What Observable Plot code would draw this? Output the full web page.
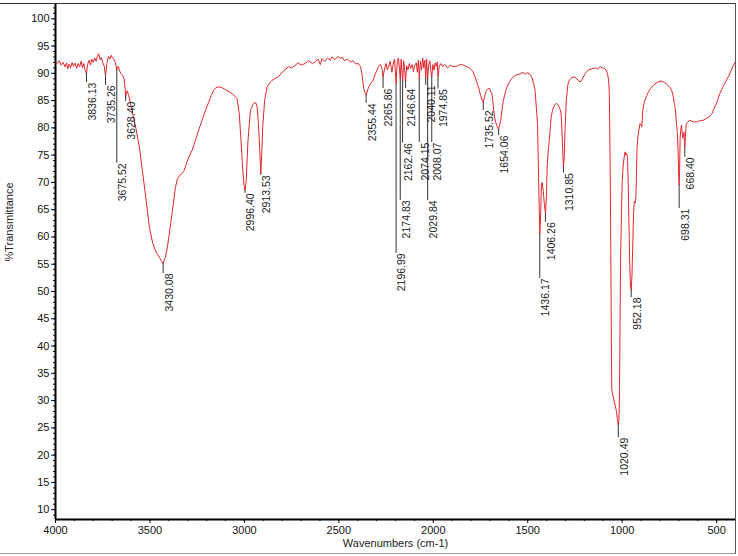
<!DOCTYPE html>
<html><head><meta charset="utf-8">
<script src="https://cdn.jsdelivr.net/npm/d3@7"></script>
<script src="https://cdn.jsdelivr.net/npm/@observablehq/plot@0.6"></script>
<style>
body{margin:0;background:#fff;}
#wrap{position:relative;width:738px;height:556px;overflow:hidden;background:#fff;}
#border{position:absolute;left:0;top:3px;width:736px;height:551px;border-top:1px solid #333;border-right:1px solid #555;border-bottom:1px solid #999;pointer-events:none;box-sizing:border-box;}
</style></head><body><div id="wrap"><div id="border"></div></div>
<script>
// Spectrum (wavenumber cm-1, %T)
const wavenumbers = [4000,3990,3980,3970,3960,3950,3942,3935,3928,3920,3912,3905,3896,3888,3880,3872,3865,3857,3850,3843,3836,3830,3822,3815,3808,3800,3792,3785,3778,3771,3764,3757,3750,3742,3735,3728,3720,3712,3705,3698,3690,3683,3676,3668,3660,3652,3644,3636,3628,3620,3612,3604,3596,3588,3574,3556,3538,3520,3503,3485,3467,3450,3441,3430,3418,3408,3400,3383,3365,3355,3344,3330,3321,3308,3295,3277,3259,3240,3224,3205,3189,3175,3162,3150,3136,3120,3100,3080,3065,3050,3039,3027,3018,3009,3002,2996,2990,2981,2968,2951,2940,2933,2925,2921,2913,2908,2903,2893,2880,2865,2854,2835,2819,2800,2780,2766,2750,2731,2715,2700,2678,2660,2640,2625,2610,2598,2589,2575,2560,2545,2536,2520,2505,2490,2483,2470,2455,2439,2425,2410,2396,2385,2378,2368,2360,2355,2345,2333,2320,2307,2298,2290,2280,2272,2266,2258,2250,2243,2237,2228,2219,2212,2205,2197,2190,2184,2179,2175,2170,2166,2162,2157,2152,2147,2141,2134,2127,2120,2112,2105,2098,2090,2084,2079,2074,2068,2062,2056,2050,2045,2040,2035,2030,2024,2018,2013,2008,2002,1996,1990,1984,1979,1975,1968,1960,1950,1940,1925,1910,1895,1875,1860,1840,1820,1805,1790,1778,1768,1761,1750,1740,1735,1728,1720,1710,1702,1695,1690,1683,1678,1670,1664,1655,1648,1643,1636,1629,1615,1602,1590,1576,1560,1540,1525,1515,1505,1490,1478,1468,1461,1455,1448,1442,1436,1431,1428,1424,1418,1412,1406,1401,1397,1392,1386,1380,1376,1370,1365,1357,1349,1341,1333,1328,1323,1318,1314,1311,1307,1302,1296,1290,1286,1278,1270,1260,1249,1240,1233,1222,1214,1206,1195,1180,1165,1150,1140,1130,1117,1105,1095,1085,1078,1072,1068,1064,1060,1057,1055,1050,1040,1030,1025,1020.5,1017,1014,1011,1008,1004,1000,995,990,985,980,976,972,968,964,960,956,952,948,944,940,936,932,928,925,921,916,912,905,900,896,891,886,880,870,861,850,835,820,800,785,775,765,755,745,738,730,724,720,714,708,704,701,698.3,696,693,689,686,682,679,676,673,670,668.4,665,661,655,642,630,620,606,590,571,555,540,525,510,495,483,465,448,435,422,410,403];
const transmittance = [92.1,91.8,92.3,91.5,92.0,91.2,91.9,90.8,91.7,91.0,92.0,91.3,91.9,90.9,91.8,91.2,92.2,91.0,91.8,90.6,89.9,91.6,92.4,91.5,92.6,92.0,92.8,92.2,93.2,93.6,92.5,92.9,92.0,91.3,89.6,91.8,93.1,92.6,93.3,92.8,92.6,92.0,90.6,91.3,90.4,89.9,89.6,88.8,85.8,86.8,85.9,84.6,83.4,82.0,79.9,76.5,71.6,66.7,61.8,58.8,57.2,56.3,55.7,55.1,56.3,58.0,60.0,64.3,69.1,70.6,71.2,71.7,72.0,73.3,74.6,75.9,77.7,79.8,81.4,83.3,84.7,86.0,86.9,87.4,87.5,87.4,87.0,86.6,86.3,85.8,85.4,82.6,77.7,72.5,69.5,68.5,70.5,77.7,83.2,84.5,84.6,84.0,80.5,77.7,71.6,75.5,80.1,85.0,87.5,88.3,88.7,89.1,89.4,90.2,90.8,91.2,91.0,91.5,91.9,91.5,91.8,92.3,91.8,92.1,92.6,91.6,92.7,92.2,92.8,92.4,93.0,92.5,93.1,92.7,93.0,92.3,92.6,92.1,92.3,91.7,91.8,91.2,89.9,87.2,86.3,86.0,87.2,88.1,88.6,89.9,90.6,91.2,91.6,91.0,89.3,90.8,91.8,90.6,91.2,92.2,90.2,91.7,92.6,88.1,92.4,92.8,90.8,89.0,92.6,90.2,88.5,92.3,91.0,88.3,91.4,90.6,91.8,90.9,91.6,90.3,91.5,91.9,90.2,92.4,89.0,92.2,90.6,92.8,91.0,92.4,89.2,92.6,89.0,91.5,92.3,90.5,89.4,91.6,90.6,91.9,91.3,92.1,89.5,91.3,91.8,91.2,91.6,91.0,91.5,91.2,91.3,91.6,91.5,91.2,90.9,90.3,89.3,88.2,87.5,86.0,84.9,84.7,85.8,86.8,87.2,87.2,86.6,86.3,84.4,82.6,81.0,80.5,79.7,80.6,81.4,83.3,85.0,87.0,88.1,88.8,89.4,89.7,89.9,90.2,89.8,90.1,89.9,89.3,88.0,86.9,84.0,80.8,70.0,60.5,64.5,69.0,70.0,68.5,66.0,64.3,67.5,72.8,75.5,77.7,80.2,82.0,83.0,83.6,84.2,84.5,84.3,83.8,83.3,82.6,79.0,75.0,72.8,74.5,80.0,85.0,87.0,88.2,88.8,89.1,89.3,89.3,89.0,88.7,88.4,88.8,89.3,90.0,90.6,90.8,90.9,91.0,90.8,91.2,91.0,90.9,90.6,90.0,88.8,86.5,75.0,57.0,40.0,32.0,31.0,29.6,28.0,26.5,25.5,26.5,32.0,45.0,57.0,64.0,70.0,73.0,74.5,75.6,75.0,75.3,74.6,70.0,62.0,55.0,51.0,50.2,53.0,58.5,64.0,66.5,66.2,67.0,70.4,76.5,78.5,79.5,80.8,80.6,80.2,83.2,84.2,85.0,85.9,86.6,87.2,87.8,88.2,88.6,88.5,88.3,88.1,87.7,87.3,86.9,85.8,84.5,83.8,81.5,79.0,76.0,71.5,69.5,72.0,78.3,79.8,80.5,79.0,78.1,78.8,79.2,77.5,76.5,78.5,80.6,81.0,81.4,81.2,81.1,81.1,81.3,81.4,81.7,82.0,82.6,83.8,85.0,86.3,87.6,88.7,89.6,90.6,91.5,92.0];

// Peak annotations
const peakWavenumbers = [3836.13,3735.26,3675.52,3628.40,3430.08,2996.40,2913.53,2355.44,2265.86,2196.99,2174.83,2162.46,2146.64,2074.15,2040.11,2029.84,2008.07,1974.85,1735.52,1654.06,1436.17,1406.26,1310.85,1020.49,952.18,698.31,668.40];
const peakLabels = ["3836.13","3735.26","3675.52","3628.40","3430.08","2996.40","2913.53","2355.44","2265.86","2196.99","2174.83","2162.46","2146.64","2074.15","2040.11","2029.84","2008.07","1974.85","1735.52","1654.06","1436.17","1406.26","1310.85","1020.49","952.18","698.31","668.40"];
const peakTransmittance = [89.9,89.6,90.6,85.8,55.1,68.5,71.6,86.0,89.3,88.1,89.0,88.5,88.3,89.0,89.2,89.0,89.4,89.5,84.7,79.7,60.5,64.3,72.8,25.5,50.2,69.5,76.5];
const labelLevels = [88.3,87.8,73.5,84.8,53.3,68.0,71.3,84.5,87.2,57.0,66.7,77.2,87.2,77.3,87.8,66.7,77.3,87.1,83.2,78.6,52.4,62.7,71.7,23.2,48.9,65.2,74.6];

const xTicks = [4000,3500,3000,2500,2000,1500,1000,500];
const yTicks = [10,15,20,25,30,35,40,45,50,55,60,65,70,75,80,85,90,95,100];
const xMinorTicks = d3.range(400, 4001, 100);
const yMinorTicks = d3.range(9, 103, 1);

const spectrum = wavenumbers.map((w, i) => ({w, t: transmittance[i]}));
const peaks = peakWavenumbers.map((w, i) => ({w, label: peakLabels[i], t: peakTransmittance[i], l: labelLevels[i]}));

const chart = Plot.plot({
  width: 738,
  height: 556,
  marginLeft: 55,
  marginRight: 3,
  marginTop: 3,
  marginBottom: 37,
  style: {fontFamily: "'Liberation Sans', Arial, sans-serif", fontSize: "11px", background: "transparent", color: "#111"},
  x: {domain: [4000, 400]},
  y: {domain: [8.2, 102.8]},
  marks: [
    Plot.frame({stroke: "#333"}),
    Plot.axisX({ticks: xMinorTicks, tickSize: 2, tickFormat: () => "", label: null, stroke: "#111"}),
    Plot.axisX({ticks: xTicks, tickSize: 4, tickPadding: 3, tickFormat: d => String(d), label: null, fontSize: 11, stroke: "#111"}),
    Plot.axisY({ticks: yMinorTicks, tickSize: 2, tickFormat: () => "", label: null, stroke: "#111"}),
    Plot.axisY({ticks: yTicks, tickSize: 4, tickPadding: 2, tickFormat: d => String(d), label: null, fontSize: 11, stroke: "#111"}),
    Plot.ruleX([4000], {stroke: "#000", strokeWidth: 2}),
    Plot.ruleY([8.2], {stroke: "#000", strokeWidth: 2}),
    Plot.line(spectrum, {x: "w", y: "t", stroke: "#e3262b", strokeWidth: 1}),
    Plot.ruleX(peaks, {x: "w", y1: "t", y2: "l", stroke: "#333", strokeWidth: 1}),
    Plot.text(peaks, {x: "w", y: "l", text: "label", rotate: -90, textAnchor: "end", dx: 6, fontSize: 10.5, fill: "#222"}),
    Plot.text(["%Transmittance"], {frameAnchor: "left", dx: -46, rotate: -90, fontSize: 11, fill: "#222"}),
    Plot.text(["Wavenumbers (cm-1)"], {frameAnchor: "bottom", dy: 27, fontSize: 11, fill: "#222"})
  ]
});
document.getElementById("wrap").prepend(chart);
</script>
</body></html>
